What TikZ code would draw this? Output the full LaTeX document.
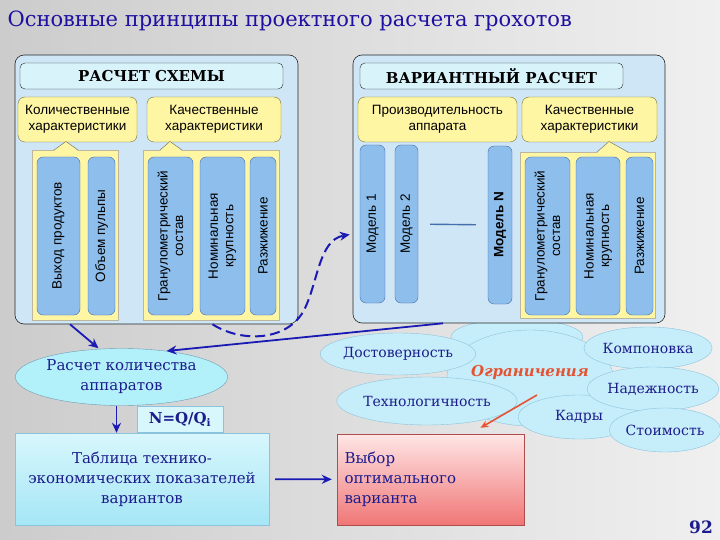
\documentclass[tikz,border=0pt]{standalone}
\usepackage{fontspec}
\setmainfont{DejaVu Serif}
\setsansfont{Liberation Sans}
\usetikzlibrary{arrows.meta,positioning,shapes.geometric}

\definecolor{navytext}{RGB}{28,28,140}
\definecolor{titleblue}{RGB}{30,16,160}
\definecolor{panelblue}{RGB}{206,230,246}
\definecolor{headcyan}{RGB}{216,243,250}
\definecolor{yellowbox}{RGB}{255,246,164}
\definecolor{yellowline}{RGB}{120,110,60}
\definecolor{colblue}{RGB}{142,190,236}
\definecolor{colline}{RGB}{70,110,170}
\definecolor{cloudfill}{RGB}{198,238,250}
\definecolor{cloudline}{RGB}{140,195,220}
\definecolor{arrowblue}{RGB}{26,26,180}
\definecolor{arrowred}{RGB}{228,84,52}
\definecolor{redtop}{RGB}{255,230,230}
\definecolor{redbottom}{RGB}{240,118,118}
\definecolor{cyantop}{RGB}{216,247,252}
\definecolor{cyanbottom}{RGB}{165,230,246}

\begin{document}
\begin{tikzpicture}[x=1pt,y=-1pt,
      panel_box/.style={
         draw=black!85,
         fill=panelblue,
         rounded corners=9pt,
         line width=0.6pt,
         inner sep=0pt},
      head_box/.style={
         draw=black!85,
         fill=headcyan,
         rounded corners=5pt,
         minimum width=263pt,
         minimum height=26pt,
         inner sep=0pt,
         font=\fontsize{15}{18}\selectfont\bfseries},
      call_box/.style={
         draw=yellowline,
         fill=yellowbox,
         rounded corners=7pt,
         minimum height=45pt,
         inner sep=0pt,
         align=center,
         font=\sffamily\fontsize{13.5}{16}\selectfont},
      yellow_back/.style={
         draw=yellowline!50,
         fill=yellowbox},
      col_box/.style={
         draw=colline,
         fill=colblue,
         rounded corners=6pt,
         rotate=90,
         inner sep=0pt,
         minimum width=158pt,
         align=center,
         font=\sffamily\fontsize{13.5}{15.5}\selectfont},
      cloud_part/.style={
         ellipse,
         draw=cloudline,
         fill=cloudfill,
         inner sep=0pt,
         text=navytext,
         font=\fontsize{14}{16}\selectfont},
      text_box/.style={
         draw=cloudline,
         inner sep=0pt,
         text=navytext,
         align=center,
         font=\fontsize{15}{20}\selectfont},
      arrow_blue/.style={
         -{Stealth[length=10pt,width=9pt]},
         draw=arrowblue,
         line width=1.8pt},
      arrow_dash/.style={
         -{Stealth[length=10pt,width=9pt]},
         draw=arrowblue,
         line width=2pt,
         dash pattern=on 10pt off 5pt},
      arrow_red/.style={
         -{Stealth[length=8pt,width=7pt]},
         draw=arrowred,
         line width=1.6pt}
]
      \useasboundingbox (0,0) rectangle (720,540);
      \shade[left color=black!20, middle color=white, right color=black!6] (0,0) rectangle (720,540);

      %title
      \node[anchor=west, text=titleblue, font=\fontsize{21}{25}\selectfont] (title) at (4,21)
         {Основные принципы проектного расчета грохотов};

      %cloud of limits
      \node[cloud_part, minimum width=132pt, minimum height=36pt] (cloud_top) at (517,337) {};
      \node[cloud_part, minimum width=165pt, minimum height=96pt, text=arrowred,
            font=\fontsize{15}{18}\selectfont\bfseries\itshape] (limits) at (530,378) {\raisebox{14pt}{Ограничения}};
      \foreach \nm/\cx/\cy/\w/\h/\txt in {% name/x/y/width/height/text
        staff/579/417/122/44/Кадры,
        layout/648/348/124/42/Компоновка,
        reliab/653/389/132/44/Надежность,
        cost/665/430/106/44/Стоимость,
        trust/398/354/132/42/Достоверность,
        techn/427/401/134/48/Технологичность}
        \node[cloud_part, minimum width=\w pt, minimum height=\h pt] (\nm) at (\cx,\cy) {\txt};

      %scheme panel
      \node[panel_box, minimum width=283pt, minimum height=269pt] (scheme) at (156.5,189.5) {};
      \node[head_box] (scheme_head) at (151.5,76) {РАСЧЕТ СХЕМЫ};
      \draw[yellow_back] (32,150) rectangle (118,320);
      \draw[yellow_back] (143,150) rectangle (279,320);
      \node[call_box, minimum width=119pt] (qty) at (77.5,119.5) {Количественные\\характеристики};
      \node[call_box, minimum width=134pt] (qual_a) at (214,119.5) {Качественные\\характеристики};

      %variant panel
      \node[panel_box, minimum width=312pt, minimum height=268pt] (variant) at (509,189) {};
      \node[head_box] (variant_head) at (491.5,76) {ВАРИАНТНЫЙ РАСЧЕТ};
      \draw[yellow_back] (520,152) rectangle (655,318);
      \node[call_box, minimum width=159pt] (prod) at (437.5,119.5) {Производительность\\аппарата};
      \node[call_box, minimum width=135pt] (qual_b) at (589.5,119.5) {Качественные\\характеристики};

      \foreach \a/\b/\c/\t in {54/66/78/150, 160/170/182/150, 597/609/628/152}{
        \fill[yellowbox] (\a,\t+1) -- (\b,141.5) -- (\c,\t+1) -- cycle;
        \draw[yellowline] (\a,\t) -- (\b,141.5) -- (\c,\t);
      }

      \foreach \nm/\cx/\cy/\w/\txt in {% name/x/y/width/text
        out/58.5/236/43/Выход продуктов,
        pulp/101.5/236/27/Объем пульпы,
        gran_a/170.5/236/45/{Гранулометрический\\состав},
        size_a/222.5/236/45/{Номинальная\\крупность},
        dil_a/263/236/26/Разжижение,
        m1/372.5/224/25/Модель 1,
        m2/406.5/224/23/Модель 2,
        mn/500/225/24/\textbf{Модель N},
        gran_b/547.5/236/45/{Гранулометрический\\состав},
        size_b/598/236/44/{Номинальная\\крупность},
        dil_b/639.5/236/27/Разжижение}
        \node[col_box, minimum height=\w pt] (\nm) at (\cx,\cy) {\txt};
      \draw[colline, line width=1.4pt, shorten <=12pt, shorten >=12pt] (m2) -- (mn);

      %bottom row
      \node[ellipse, draw=cloudline!80!black, fill=cloudfill!90!cyan, minimum width=203pt, minimum height=57pt,
            inner sep=0pt, text=navytext, align=center, font=\fontsize{15}{20}\selectfont] (calc) at (121.5,377)
         {Расчет количества\\аппаратов};
      \node[text_box, fill=cyantop, minimum width=86pt, minimum height=26pt,
            font=\fontsize{15}{18}\selectfont\bfseries] (nq) at (180,419) {N=Q/Q\textsubscript{i}};
      \node[text_box, top color=cyantop, bottom color=cyanbottom, minimum width=254pt, minimum height=92pt] (table) at (142,479)
         {Таблица технико-\\экономических показателей\\вариантов};
      \node[text_box, draw=red!55!black!70, top color=redtop, bottom color=redbottom, minimum width=187pt,
            minimum height=91pt, text width=172pt, align=left] (choice) at (430.5,479.5)
         {Выбор\\оптимального\\варианта};
      \node[text=navytext, font=\fontsize{17}{20}\selectfont\bfseries] (page) at (701,527) {92};

      %connectors
      \draw[arrow_blue] ([xshift=-86.5pt]scheme.south) -- ([xshift=-23pt]calc.north);
      \draw[arrow_blue] ([xshift=-66pt]variant.south) -- (calc.30);
      \draw[arrow_dash, shorten >=3pt] ([xshift=56pt]scheme.south) .. controls (240,342) and (285,342) .. (303,312)
         .. controls (318,285) and (318,240) .. ([yshift=-45pt]variant.west);
      \draw[arrow_blue] ([xshift=-5pt]calc.south) -- ([xshift=-5pt]calc.south |- table.north);
      \draw[arrow_blue, shorten <=6pt, shorten >=5pt] (table) -- (choice);
      \coordinate (lim_src) at (537,395);
      \draw[arrow_red] (lim_src) -- ([shift={(50pt,6pt)}]choice.north);
\end{tikzpicture}
\end{document}
